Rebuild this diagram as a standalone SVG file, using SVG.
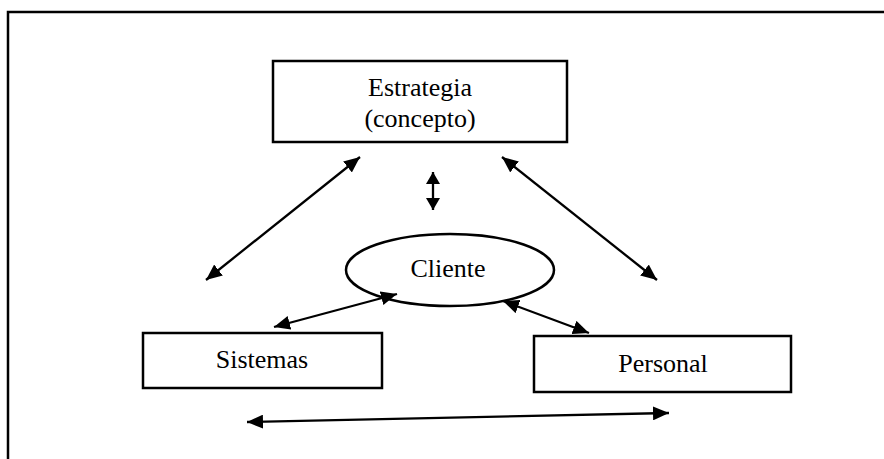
<svg xmlns="http://www.w3.org/2000/svg" width="884" height="459" viewBox="0 0 884 459">
<defs>
<marker id="ah" viewBox="0 0 16 14" refX="16" refY="7" markerWidth="16" markerHeight="14" markerUnits="userSpaceOnUse" orient="auto-start-reverse">
<path d="M0,0 L16,7 L0,14 Z" fill="#000"/>
</marker>
<marker id="ahs" viewBox="0 0 12 14" refX="12" refY="7" markerWidth="12" markerHeight="14" markerUnits="userSpaceOnUse" orient="auto-start-reverse">
<path d="M0,0 L12,7 L0,14 Z" fill="#000"/>
</marker>
<style>
.box{fill:#fff;stroke:#000;stroke-width:2.5}
.lbl{font-family:"Liberation Serif","Times New Roman",serif;font-size:26px;fill:#000;text-anchor:middle}
.con{stroke:#000;stroke-width:2.3;fill:none;marker-start:url(#ah);marker-end:url(#ah)}
.small{marker-start:url(#ahs);marker-end:url(#ahs)}
.frame{stroke:#000;stroke-width:2.5;fill:none}
</style>
</defs>
<rect width="884" height="459" fill="#fff"/>
<path class="frame" d="M8,459 L8,12 L884,12"/>
<g id="estrategia">
<rect class="box" x="273" y="61" width="294" height="81"/>
<text class="lbl" x="420" y="96">Estrategia</text>
<text class="lbl" x="420" y="127">(concepto)</text>
</g>
<g id="cliente">
<ellipse class="box" cx="450" cy="270" rx="104" ry="36"/>
<text class="lbl" x="448" y="277">Cliente</text>
</g>
<g id="sistemas">
<rect class="box" x="143" y="333" width="239" height="55"/>
<text class="lbl" x="262" y="368">Sistemas</text>
</g>
<g id="personal">
<rect class="box" x="534" y="336" width="257" height="56"/>
<text class="lbl" x="663" y="372">Personal</text>
</g>
<g id="connectors">
<line class="con" x1="360" y1="157" x2="206" y2="280"/>
<line class="con small" x1="433" y1="172" x2="433" y2="210"/>
<line class="con" x1="502" y1="157" x2="657" y2="280"/>
<line class="con" x1="397" y1="294" x2="274" y2="327"/>
<line class="con" x1="503" y1="301" x2="589" y2="333"/>
<line class="con" x1="247" y1="422" x2="669" y2="413"/>
</g>
</svg>
